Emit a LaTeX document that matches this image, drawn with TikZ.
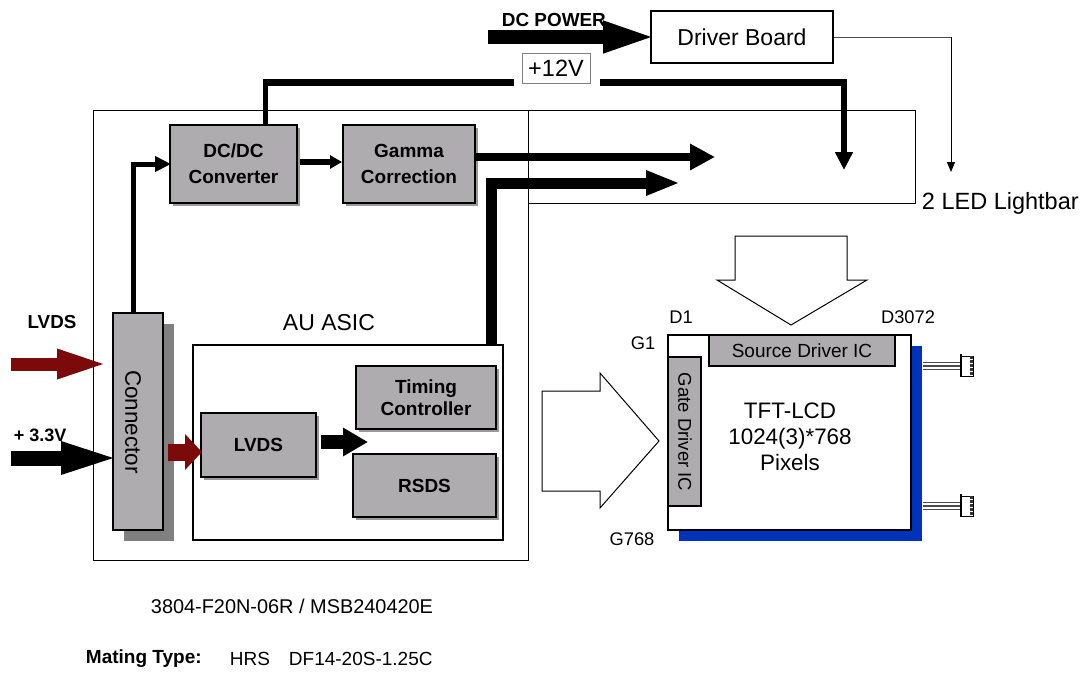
\documentclass[tikz,border=0pt]{standalone}
\usepackage{xcolor}
\usepackage{fontspec}
\setmainfont{Liberation Sans}
\usetikzlibrary{arrows.meta,shadows}
\definecolor{boxgray}{HTML}{AEACAE}
\definecolor{shadegray}{HTML}{808080}
\definecolor{feedred}{HTML}{7D0A0A}
\definecolor{panelblue}{HTML}{0033BB}
\newcommand{\pxfont}[2]{\fontsize{#1}{#2}\selectfont}
\tikzset{
  txt/.style={inner sep=0.75pt,align=center,font=\pxfont{#1}{26}},
  txtb/.style={inner sep=0.75pt,align=center,font=\pxfont{#1}{25}\bfseries},
  plainbox/.style={draw,line width=2pt,fill=boxgray,inner sep=0pt,align=center},
  graybox/.style={plainbox,
    drop shadow={shadow xshift=3pt,shadow yshift=-3pt,fill=shadegray,opacity=0.8}},
  whitebox/.style={draw,line width=2pt,fill=white,inner sep=0pt,align=center},
  bigarrow/.style n args={3}{line width=#1pt,-{Triangle[length=#2pt,width=#3pt]}},
}
\begin{document}
\begin{tikzpicture}[x=1pt,y=-1pt,yscale=1,xscale=1]
\useasboundingbox (0,0) rectangle (1089,673);
\draw [line width=1pt] (93,110) rectangle (528,560);
\draw [line width=1pt] (528,110) -- (915,110) -- (915,203) -- (528,203);
\draw [fill=white,line width=1pt] (542,391) -- (600,391) -- (600,373) -- (659,441) -- (600,508) -- (600,491) -- (542,491) -- cycle;
\draw [fill=white,line width=1pt] (735,236) -- (847,236) -- (847,280) -- (867,280) -- (791,325) -- (717,280) -- (735,280) -- cycle;
%Blocks
\draw (742,37) node (driver) [whitebox,minimum width=182pt,minimum height=52pt] {\pxfont{23}{26}Driver Board};
\draw (233.5,164) node (dcdc) [graybox,minimum width=127pt,minimum height=78pt,font=\pxfont{19}{26}\bfseries] {DC/DC\\Converter};
\draw (409,164) node (gamma) [graybox,minimum width=132pt,minimum height=78pt,font=\pxfont{19}{26}\bfseries] {Gamma\\Correction};
\draw (138,421.5) node (connector) [plainbox,minimum width=50pt,minimum height=217pt,
  drop shadow={shadow xshift=11pt,shadow yshift=-11pt,fill=shadegray,opacity=1}] {};
\draw (133,422) node (connectortxt) [txt=22.4,rotate=-90] {Connector};
\draw (348,442.5) node (asic) [whitebox,minimum width=310pt,minimum height=195pt] {};
\draw (426,397.5) node (timing) [graybox,minimum width=140pt,minimum height=63pt,font=\pxfont{19}{22}\bfseries] {Timing\\Controller};
\draw (424.5,485.5) node (rsds) [graybox,minimum width=143pt,minimum height=63pt,font=\pxfont{19}{22}\bfseries] {RSDS};
\draw (258.5,445) node (lvds) [graybox,minimum width=115pt,minimum height=64pt,font=\pxfont{19}{22}\bfseries] {LVDS};
\draw (556,68) node (plus12) [draw=shadegray,line width=1pt,fill=white,inner sep=0pt,minimum width=68pt,minimum height=30pt,font=\pxfont{23.5}{26}] {+12V};
%Panel
\draw (789.5,432.5) node (panel) [whitebox,minimum width=243pt,minimum height=195pt,
  drop shadow={shadow xshift=10.5pt,shadow yshift=-11pt,fill=panelblue,opacity=1}] {};
\draw (802,350.5) node (source) [plainbox,minimum width=186pt,minimum height=31pt,font=\pxfont{19}{22}] {Source Driver IC};
\draw (684.5,431.5) node (gatebox) [plainbox,minimum width=33pt,minimum height=149pt] {};
\draw (685,432) node (gate) [txt=18.5,rotate=-90] {Gate Driver IC};
\foreach \y in {366,506}{
  \draw [black!70,line width=1.5pt] (923,\y-3.5) -- (961,\y-3.5) (923,\y) -- (961,\y) (923,\y+3.5) -- (961,\y+3.5);
  \draw [line width=1.5pt] (961,\y-12) -- (961,\y+11);
  \draw [fill=white,line width=1pt] (961,\y-10) rectangle (973,\y+10);
  \draw [black!80,line width=3pt,dash pattern=on 2.5pt off 1.5pt] (971,\y-10) -- (971,\y+10);
}
%Connectors
\coordinate (lvdsin) at (11,364);
\coordinate (lvdstip) at (103,364);
\coordinate (powerin) at (11,458);
\coordinate (dcin) at (488,37);
\coordinate (redout) at (168,452);
\coordinate (lvdsout) at (321,442);
\coordinate (lvdstip2) at (367,442);
\coordinate (gammain) at (300,162);
\coordinate (gammaend) at (714,157);
\coordinate (rsdsend) at (678,183);
\coordinate (rsdsbus) at (491.5,183);
\coordinate (connbus) at (133,164);
\coordinate (railleft) at (265.5,82.5);
\coordinate (gapleft) at (514,82.5);
\coordinate (gapright) at (600,82.5);
\coordinate (railright) at (844,82.5);
\coordinate (railtip) at (844,170);
\coordinate (bartip) at (951,172);
\draw [feedred,bigarrow={13}{53}{26},shorten >=-7pt] (lvdsin) -- (lvdstip);
\draw [bigarrow={15}{62}{28},shorten >=-11pt] (powerin) -- (powerin -| connector.west);
\draw [feedred,bigarrow={17}{17}{35},shorten >=-2pt] (redout) -- (redout -| lvds.west);
\draw [bigarrow={14}{25}{27},shorten >=-1pt] (lvdsout) -- (lvdstip2);
\draw [bigarrow={14}{55}{28},shorten >=-8pt] (dcin) -- (driver.west);
\draw [black!70,line width=1pt] (driver.east) -- (driver.east -| bartip);
\draw [line width=1pt,-{Triangle[length=10pt,width=8pt]}] (driver.east -| bartip) -- (bartip);
\draw [line width=5pt] (railleft |- dcdc.north) -- (railleft);
\draw [line width=7pt] ([xshift=-2.5pt]railleft) -- (gapleft);
\draw [line width=7pt] (gapright) -- ([xshift=3pt]railright);
\draw [bigarrow={6}{18}{17}] (railright) -- (railtip);
\draw [bigarrow={5}{16}{15},shorten >=-2pt] (connbus |- connector.north) |- (dcdc.west);
\draw [bigarrow={5.5}{12}{13}] (gammain) -- (gammain -| gamma.west);
\draw [bigarrow={8}{25}{25},shorten >=-1pt] (gammaend -| gamma.east) -- (gammaend);
\draw [bigarrow={11}{34}{23},shorten >=-2pt] (rsdsbus |- asic.north) |- (rsdsend);
%Text
\draw (501,20) node (dcpower) [anchor=west,txtb=18.9] {DC POWER};
\draw (921,203) node (lightbar) [anchor=west,txt=23.5] {2 LED Lightbar};
\draw (329,323) node (asiclabel) [txt=23] {AU ASIC};
\draw (52,322) node (lvdslabel) [txtb=18.8] {LVDS};
\draw (13,435) node (powerlabel) [anchor=west,txtb=18] {+ 3.3V};
\draw (790,437) node (tft) [font=\pxfont{22.4}{26},align=center,inner sep=0.75pt] {TFT-LCD\\1024(3)*768\\Pixels};
\draw (681,317) node (dfirst) [txt=18.3] {D1};
\draw (908,317) node (dlast) [txt=18.3] {D3072};
\draw (643,343) node (gfirst) [txt=18.3] {G1};
\draw (632,539) node (glast) [txt=18.3] {G768};
\draw (150,606) node (partno) [anchor=west,txt=19.9] {3804-F20N-06R / MSB240420E};
\draw (85,659) node (mating) [anchor=west,txtb=19] {Mating Type:};
\draw (229,659) node (hrs) [anchor=west,txt=19] {HRS};
\draw (288,659) node (matingno) [anchor=west,txt=19] {DF14-20S-1.25C};
\end{tikzpicture}
\end{document}
